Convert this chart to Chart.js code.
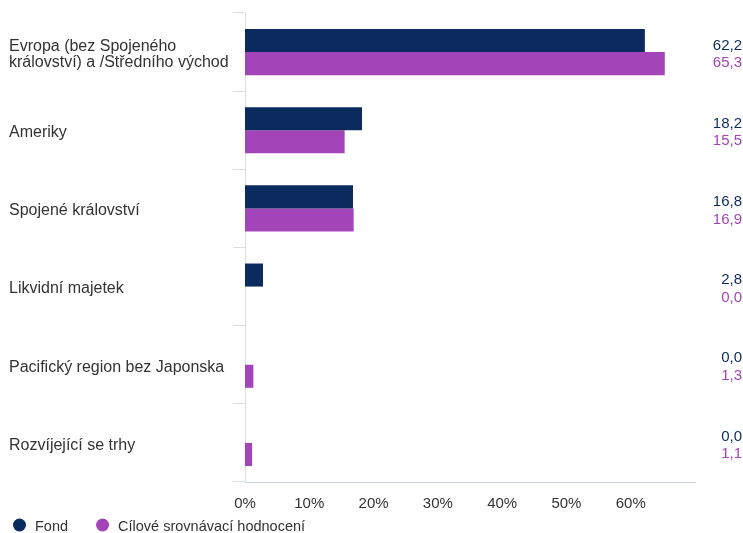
<!DOCTYPE html>
<html>
<head>
<meta charset="utf-8">
<script src="https://cdn.jsdelivr.net/npm/chart.js@4"></script>
<style>
  html, body { margin: 0; padding: 0; background: #fff; }
  #wrap { width: 743px; height: 533px; }
</style>
</head>
<body>
<div id="wrap"><canvas id="myChart" width="743" height="533"></canvas></div>
<script>
var categories = [
    ['Evropa (bez Spojeného', 'království) a /Středního východ'],
    'Ameriky',
    'Spojené království',
    'Likvidní majetek',
    'Pacifický region bez Japonska',
    'Rozvíjející se trhy'
];
var fondValues = [62.2, 18.2, 16.8, 2.8, 0.0, 0.0];
var benchmarkValues = [65.3, 15.5, 16.9, 0.0, 1.3, 1.1];
var seriesNames = ['Fond', 'Cílové srovnávací hodnocení'];
var tickValues = [0, 10, 20, 30, 40, 50, 60];

var navy = '#0b2b5e';
var purple = '#a444b9';
var textGray = '#333333';
var fontFamily = '"Liberation Sans", Arial, sans-serif';

function fmt(v) {
    return v.toFixed(1).replace('.', ',');
}

// value pairs at the right edge
var valueLabels = {
    id: 'valueLabels',
    afterDraw: function (chart) {
        var ctx = chart.ctx;
        var yScale = chart.scales.y;
        var x = chart.chartArea.right + 47;
        ctx.save();
        ctx.font = '15px ' + fontFamily;
        ctx.textAlign = 'right';
        ctx.textBaseline = 'middle';
        categories.forEach(function (c, i) {
            var yc = yScale.getPixelForValue(i);
            ctx.fillStyle = navy;
            ctx.fillText(fmt(fondValues[i]), x, yc - 6.5);
            ctx.fillStyle = purple;
            ctx.fillText(fmt(benchmarkValues[i]), x, yc + 11);
        });
        ctx.restore();
    }
};

// legend in the bottom-left corner
var bottomLegend = {
    id: 'bottomLegend',
    afterDraw: function (chart) {
        var ctx = chart.ctx;
        var y = 525;
        var x = 13;
        ctx.save();
        ctx.font = '14.5px ' + fontFamily;
        ctx.textBaseline = 'middle';
        ctx.textAlign = 'left';
        chart.data.datasets.forEach(function (ds) {
            ctx.fillStyle = ds.backgroundColor;
            ctx.beginPath();
            ctx.arc(x + 6.5, y, 6.5, 0, Math.PI * 2);
            ctx.fill();
            ctx.fillStyle = textGray;
            ctx.fillText(ds.label, x + 22, y + 1.5);
            x += 22 + ctx.measureText(ds.label).width + 28;
        });
        ctx.restore();
    }
};

var ctx = document.getElementById('myChart').getContext('2d');
var myChart = new Chart(ctx, {
    type: 'bar',
    data: {
        labels: categories,
        datasets: [{
            label: seriesNames[0],
            data: fondValues,
            backgroundColor: navy,
            barPercentage: 1,
            categoryPercentage: 0.59
        }, {
            label: seriesNames[1],
            data: benchmarkValues,
            backgroundColor: purple,
            barPercentage: 1,
            categoryPercentage: 0.59
        }]
    },
    options: {
        indexAxis: 'y',
        responsive: false,
        animation: false,
        layout: {
            padding: { top: 13, right: 48, left: 9, bottom: 19 }
        },
        plugins: {
            legend: { display: false },
            tooltip: { enabled: false }
        },
        scales: {
            x: {
                min: 0,
                max: 70,
                afterBuildTicks: function (scale) {
                    scale.ticks = tickValues.map(function (v) { return { value: v }; });
                },
                ticks: {
                    color: textGray,
                    padding: 5,
                    maxRotation: 0,
                    font: { family: fontFamily, size: 15 },
                    callback: function (v) { return v + '%'; }
                },
                grid: { display: false },
                border: { display: true, color: '#ccd3e0' },
                afterFit: function (scale) { scale.height = 32; }
            },
            y: {
                ticks: {
                    crossAlign: 'far',
                    labelOffset: 2.5,
                    color: textGray,
                    font: { family: fontFamily, size: 16, lineHeight: 1.0 }
                },
                grid: {
                    offset: true,
                    drawOnChartArea: false,
                    drawTicks: true,
                    tickLength: 12,
                    color: '#d8e0ec'
                },
                border: { display: true, color: '#dddddd' },
                afterFit: function (scale) { scale.width = 236; }
            }
        }
    },
    plugins: [valueLabels, bottomLegend]
});
</script>
</body>
</html>
